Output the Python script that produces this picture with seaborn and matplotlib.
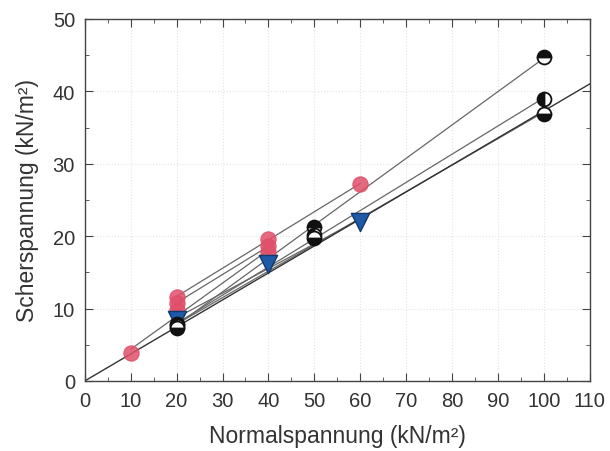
import numpy as np
import pandas as pd
import matplotlib
matplotlib.use("Agg")
import matplotlib.pyplot as plt
import seaborn as sns
from matplotlib.ticker import MultipleLocator

# Versuchsreihen (Normalspannung, Scherspannung)
red_a_x = [10, 20, 40]
red_a_y = [3.8, 9.8, 17.8]
red_b_x = [20, 40, 60]
red_b_y = [11.6, 19.6, 27.2]
red_c_x = [20, 40]
red_c_y = [10.8, 18.6]
blue_x = [20, 40, 60]
blue_y = [8.4, 16.2, 22.0]
blk_top_x = [20, 50, 100]
blk_top_y = [7.9, 21.2, 44.7]
blk_left_x = [20, 50, 100]
blk_left_y = [7.6, 20.2, 38.9]
blk_bot_x = [20, 50, 100]
blk_bot_y = [7.3, 19.7, 36.8]

sns.set_style("ticks")
plt.rcParams['font.family'] = ['Liberation Sans', 'DejaVu Sans']

fig = plt.figure(figsize=(6.10, 4.52), dpi=100)
ax = fig.add_axes([0.139, 0.155, 0.828, 0.801])

# Ausgleichsgeraden je Versuchsreihe
for xs, ys in [(red_a_x, red_a_y), (red_b_x, red_b_y), (red_c_x, red_c_y),
               (blue_x, blue_y), (blk_top_x, blk_top_y),
               (blk_left_x, blk_left_y), (blk_bot_x, blk_bot_y)]:
    k, d = np.polyfit(xs, ys, 1)
    xx = np.array([min(xs), max(xs)])
    ax.plot(xx, k * xx + d, color="#666666", lw=0.9, zorder=2)

# Ursprungsgerade
all_x = np.array(red_a_x[:1] + blk_bot_x)
all_y = np.array(red_a_y[:1] + blk_bot_y)
slope = (all_x * all_y).sum() / (all_x ** 2).sum()
xx = np.array([0, 110])
ax.plot(xx, slope * xx, color="#333333", lw=1.0, zorder=2)

red = pd.DataFrame({"x": red_a_x + red_b_x + red_c_x,
                    "y": red_a_y + red_b_y + red_c_y})
sns.scatterplot(data=red, x="x", y="y", ax=ax, color="#E0506A", s=120,
                edgecolor="#E0506A", alpha=0.85, zorder=3)
sns.scatterplot(x=blue_x, y=blue_y, ax=ax, marker="v", color="#1E5AA8",
                s=170, edgecolor="#123A70", zorder=4)

for xs, ys, fs in [(blk_top_x, blk_top_y, "top"), (blk_left_x, blk_left_y, "left"),
                   (blk_bot_x, blk_bot_y, "bottom")]:
    ax.plot(xs, ys, ls="none", marker="o", ms=10, fillstyle=fs,
            markerfacecolor="#111111", markerfacecoloralt="white",
            markeredgecolor="#111111", markeredgewidth=1.3, zorder=5)

ax.set_xlim(0, 110)
ax.set_ylim(0, 50)
ax.xaxis.set_major_locator(MultipleLocator(10))
ax.xaxis.set_minor_locator(MultipleLocator(5))
ax.yaxis.set_major_locator(MultipleLocator(10))
ax.yaxis.set_minor_locator(MultipleLocator(5))
ax.tick_params(which="both", direction="in", top=True, right=True,
               colors="#444444", labelcolor="#333333", labelsize=14.5, pad=7)
ax.tick_params(which="major", length=6)
ax.tick_params(which="minor", length=3)
ax.grid(True, which="major", color="#e4e4e4", lw=0.8, ls=":")
for sp in ax.spines.values():
    sp.set_color("#444444")
    sp.set_linewidth(1.0)

ax.set_xlabel("Normalspannung (kN/m²)", fontsize=16.5, color="#333333", labelpad=10)
ax.set_ylabel("Scherspannung (kN/m²)", fontsize=16.5, color="#333333", labelpad=10)

fig.savefig("out.png", dpi=100)
